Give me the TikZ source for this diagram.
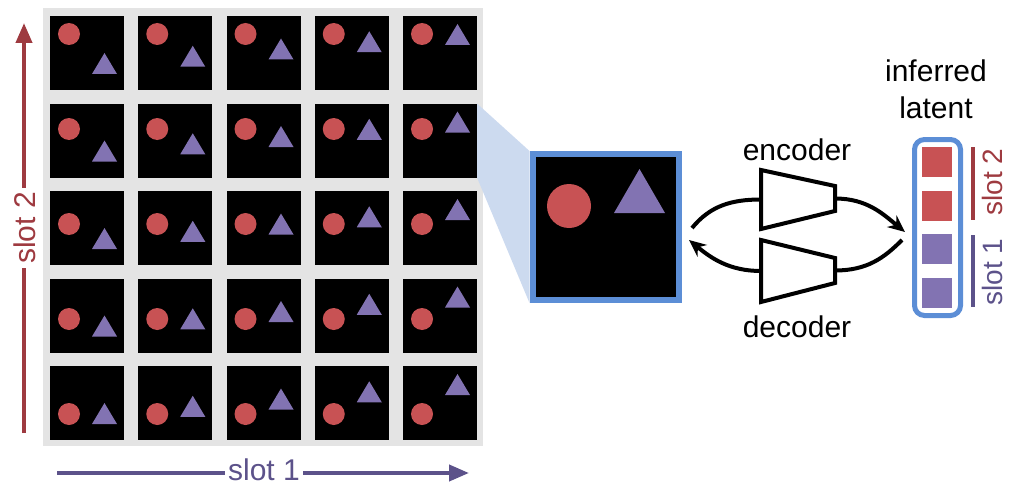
\documentclass[tikz,border=0pt]{standalone}
\usepackage{fontspec}
\setmainfont{Liberation Sans}
\usetikzlibrary{arrows.meta}

\definecolor{dotred}{RGB}{200,82,84}
\definecolor{tripurple}{RGB}{130,115,178}
\definecolor{axisred}{RGB}{158,58,64}
\definecolor{axispurple}{RGB}{92,82,138}
\definecolor{framegrey}{RGB}{228,228,228}
\definecolor{frameblue}{RGB}{92,142,214}
\definecolor{wedgeblue}{RGB}{204,218,239}

\begin{document}
\begin{tikzpicture}[x=1pt, y=-1pt,
  cell/.style={fill=black, minimum size=74pt, inner sep=0pt, outer sep=0pt},
  lab/.style={font=\fontsize{30}{37}\selectfont, inner sep=4pt},
  link/.style={line width=4pt},
  coder/.style={line width=4pt, line join=miter},
  axis/.style={line width=4pt}]

\useasboundingbox (0,0) rectangle (1009,487);

% grid of scenes
\fill [framegrey] (43,8) rectangle (483,446);
\foreach \i in {0,...,4} {
  \foreach \j in {0,...,4} {
    \pgfmathsetmacro{\cx}{50+88.25*\i}
    \pgfmathsetmacro{\cy}{16+87.5*\j}
    \pgfmathsetmacro{\ty}{\cy+58-7.25*\i}
    \node [cell] (c\i\j) at (\cx+37,\cy+37) {};
    \fill [dotred] (\cx+19,\cy+18+7.5*\j) circle (11pt);
    \fill [tripurple] (\cx+42,\ty) -- (\cx+54.5,\ty-21) -- (\cx+67,\ty) -- cycle;
  }
}

% axes
\node [lab, rotate=90, text=axisred] (s2lab) at (25,228) {slot 2};
\coordinate (s2foot) at (24,433);
\coordinate (s2head) at (24,23);
\draw [axis, axisred] (s2foot) -- (s2foot |- s2lab.west);
\draw [axis, axisred, -{Triangle[length=20pt,width=16pt]}] (s2foot |- s2lab.east) -- (s2head);

\node [lab, text=axispurple, inner sep=3pt] (s1lab) at (264,470) {slot 1};
\coordinate (s1foot) at (57,473);
\coordinate (s1head) at (469,473);
\draw [axis, axispurple] (s1foot) -- (s1foot -| s1lab.west);
\draw [axis, axispurple, -{Triangle[length=20pt,width=16pt]}] (s1foot -| s1lab.east) -- (s1head);

% zoomed scene
\node [fill=black, draw=frameblue, line width=6pt, minimum size=146pt, inner sep=0pt] (zoom) at (605.5,227) {};
\fill [wedgeblue] (c41.north east) -- (zoom.north west) -- (zoom.south west) -- (c41.south east) -- cycle;
\fill [dotred] (569,206) circle (22pt);
\fill [tripurple] (614,213) -- (639.5,169) -- (665,213) -- cycle;

% encoder and decoder
\draw [coder] (761,170) -- (835,186) -- (835,211) -- (761,229) -- cycle;
\draw [coder] (761,240) -- (835,258) -- (835,283) -- (761,302) -- cycle;
\coordinate (encin) at (761,199.5);
\coordinate (encout) at (835,198.5);
\coordinate (decin) at (835,270.5);
\coordinate (decout) at (761,271);
\node [lab] (enclab) at (797,150) {encoder};
\node [lab] (declab) at (797,327) {decoder};

% latent
\node [draw=frameblue, line width=5pt, rounded corners=10pt, minimum width=46pt, minimum height=176pt] (latent) at (937.5,227.5) {};
\foreach \k/\col in {0/dotred, 1/dotred, 2/tripurple, 3/tripurple}
  \fill [\col] (922,147+43.7*\k) rectangle +(30,30);
\node [lab, align=center] (inflab) at (936,89) {inferred\\latent};
\draw [axis, axisred] (973,147) -- (973,220);
\draw [axis, axispurple] (973,235) -- (973,307);
\node [lab, rotate=90, text=axisred, inner sep=2pt, font=\fontsize{28}{34}\selectfont] (s2r) at (992,182) {slot 2};
\node [lab, rotate=90, text=axispurple, inner sep=2pt, font=\fontsize{28}{34}\selectfont] (s1r) at (992,272) {slot 1};

% arrows
\coordinate (zin) at (692,228);
\coordinate (zout) at (689,240);
\coordinate (lin) at (905,232);
\coordinate (lout) at (902,240);
\draw [link] (zin) .. controls +(18,-22) and +(-30,0) .. (encin);
\draw [link, -{Stealth[length=17pt,width=15pt]}] (encout) .. controls +(32,0) and +(-22,-18) .. (lin);
\draw [link] (lout) .. controls +(-18,18) and +(32,0) .. (decin);
\draw [link, -{Stealth[length=17pt,width=15pt]}] (decout) .. controls +(-32,0) and +(22,18) .. (zout);

\end{tikzpicture}
\end{document}
